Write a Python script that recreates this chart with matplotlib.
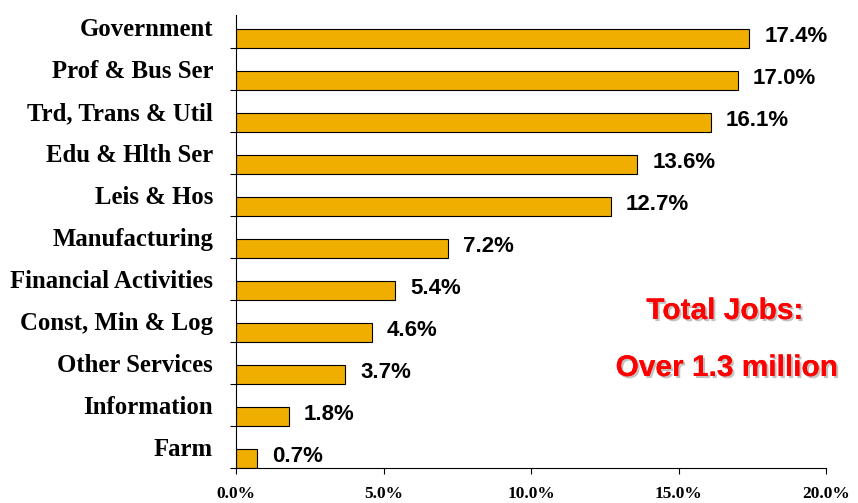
import matplotlib.pyplot as plt
import matplotlib.patheffects as pe
from matplotlib.ticker import FixedLocator, NullFormatter, FixedFormatter

# Categories listed bottom to top
categories = ["Farm", "Information", "Other Services", "Const, Min & Log",
              "Financial Activities", "Manufacturing", "Leis & Hos",
              "Edu & Hlth Ser", "Trd, Trans & Util", "Prof & Bus Ser", "Government"]
shares = [0.7, 1.8, 3.7, 4.6, 5.4, 7.2, 12.7, 13.6, 16.1, 17.0, 17.4]
xticks = [0, 5, 10, 15, 20]
xtick_labels = ["0.0%", "5.0%", "10.0%", "15.0%", "20.0%"]

fig = plt.figure(figsize=(8.58, 5.03), dpi=100)
ax = fig.add_axes([236 / 858, 1 - 468 / 503, 590 / 858, 462 / 503])

pos = list(range(len(categories)))
ax.barh(pos, shares, height=0.45, align="edge", color="#F0AE00",
        edgecolor="black", linewidth=0.8)

for p, v in zip(pos, shares):
    ax.annotate(f"{v:.1f}%", (v, p + 0.27), xytext=(15, 0),
                textcoords="offset pixels", va="center", ha="left",
                family="Liberation Sans", fontweight="bold", fontsize=16)

ax.set_xlim(0, 20)
ax.set_ylim(0, len(categories))

ax.yaxis.set_major_locator(FixedLocator(list(range(len(categories)))))
ax.yaxis.set_major_formatter(NullFormatter())
ax.yaxis.set_minor_locator(FixedLocator([p + 0.5 for p in pos]))
ax.yaxis.set_minor_formatter(FixedFormatter(categories))
ax.tick_params(axis="y", which="major", direction="out", length=4.5, width=0.8)
ax.tick_params(axis="y", which="minor", length=0, pad=16.5)
for lab in ax.get_yticklabels(minor=True):
    lab.set_family("Liberation Serif")
    lab.set_fontweight("bold")
    lab.set_fontsize(17.8)

ax.set_xticks(xticks)
ax.set_xticklabels(xtick_labels, family="Liberation Serif", fontweight="bold",
                   fontsize=12.5)
ax.tick_params(axis="x", direction="out", length=4.5, width=0.8, pad=8.5)

for s in ["top", "right"]:
    ax.spines[s].set_visible(False)
ax.spines["left"].set_bounds(0, (468 - 15) / 42)
ax.spines["left"].set_linewidth(0.8)
ax.spines["bottom"].set_linewidth(0.8)

shadow = [pe.withSimplePatchShadow(offset=(1.5, -1.5), shadow_rgbFace="#999999", alpha=0.6),
          pe.Normal()]
ax.text(725 / 858, 1 - 311 / 503, "Total Jobs:", transform=fig.transFigure,
        ha="center", va="center", color="#FF0000", family="Liberation Sans",
        fontweight="bold", fontsize=21.5, path_effects=shadow)
ax.text(727 / 858, 1 - 368 / 503, "Over 1.3 million", transform=fig.transFigure,
        ha="center", va="center", color="#FF0000", family="Liberation Sans",
        fontweight="bold", fontsize=21.5, path_effects=shadow)

fig.savefig("out.png", dpi=100)
